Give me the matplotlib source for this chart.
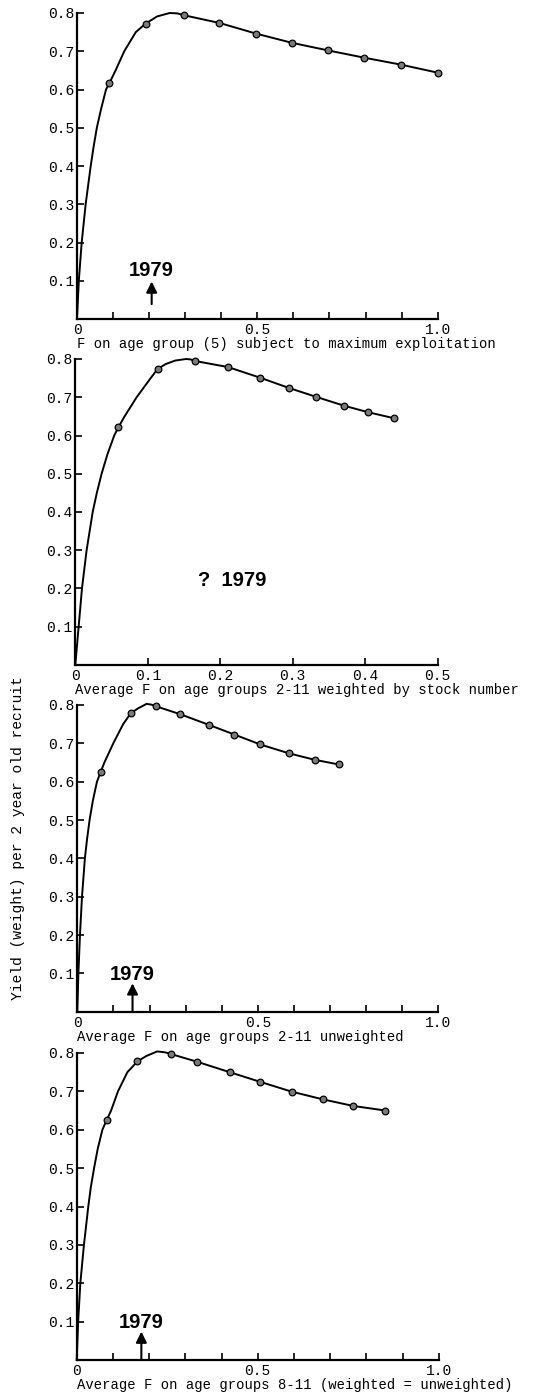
import numpy as np
import matplotlib
matplotlib.use("Agg")
import matplotlib.pyplot as plt

# --- data ---
# markers (computed points) and the traced parts of each curve between them
p1_f = [0.09, 0.19, 0.297, 0.395, 0.497, 0.596, 0.697, 0.797, 0.898, 1.0]
p1_y = [0.617, 0.772, 0.794, 0.774, 0.746, 0.722, 0.702, 0.683, 0.665, 0.644]
p1_curve_f = [0, 0.005, 0.013, 0.024, 0.038, 0.046, 0.055, 0.067, 0.0805,
              0.107, 0.131, 0.163, 0.222, 0.257, 0.278]
p1_curve_y = [0, 0.1, 0.2, 0.3, 0.4, 0.45, 0.5, 0.55, 0.6,
              0.65, 0.7, 0.75, 0.791, 0.800, 0.799]

p2_f = [0.0593, 0.1136, 0.1646, 0.2106, 0.2552, 0.2952, 0.3324, 0.3706, 0.4037, 0.44]
p2_y = [0.621, 0.774, 0.795, 0.779, 0.751, 0.724, 0.701, 0.678, 0.661, 0.645]
p2_curve_f = [0, 0.0046, 0.0092, 0.0156, 0.024, 0.0297, 0.0363, 0.0442, 0.0537,
              0.068, 0.0846, 0.104, 0.125, 0.138, 0.153, 0.159]
p2_curve_y = [0, 0.1, 0.2, 0.3, 0.4, 0.45, 0.5, 0.55, 0.6,
              0.65, 0.7, 0.75, 0.787, 0.796, 0.800, 0.799]

p3_f = [0.0646, 0.1477, 0.217, 0.285, 0.365, 0.435, 0.507, 0.586, 0.658, 0.724]
p3_y = [0.625, 0.778, 0.797, 0.776, 0.748, 0.723, 0.697, 0.674, 0.657, 0.645]
p3_curve_f = [0, 0.003, 0.0074, 0.013, 0.021, 0.027, 0.034, 0.043, 0.0545,
              0.075, 0.0997, 0.127, 0.168, 0.192, 0.205]
p3_curve_y = [0, 0.1, 0.2, 0.3, 0.4, 0.45, 0.5, 0.55, 0.6,
              0.65, 0.7, 0.75, 0.791, 0.803, 0.801]

p4_f = [0.0829, 0.1676, 0.2615, 0.3333, 0.4227, 0.5064, 0.5948, 0.681, 0.764, 0.853]
p4_y = [0.6255, 0.778, 0.797, 0.777, 0.750, 0.725, 0.699, 0.679, 0.662, 0.650]
p4_curve_f = [0, 0.004, 0.010, 0.020, 0.032, 0.039, 0.048, 0.058, 0.071,
              0.095, 0.114, 0.140, 0.192, 0.222, 0.243]
p4_curve_y = [0, 0.1, 0.2, 0.3, 0.4, 0.45, 0.5, 0.55, 0.6,
              0.65, 0.7, 0.75, 0.792, 0.804, 0.802]

xlabels = [
    "F on age group (5) subject to maximum exploitation",
    "Average F on age groups 2-11 weighted by stock number",
    "Average F on age groups 2-11 unweighted",
    "Average F on age groups 8-11 (weighted = unweighted)",
]
ylabel = "Yield (weight) per 2 year old recruit"
yticks = [0.1, 0.2, 0.3, 0.4, 0.5, 0.6, 0.7, 0.8]
ytick_labels = ["0.1", "0.2", "0.3", "0.4", "0.5", "0.6", "0.7", "0.8"]
xticks_long = [0, 0.1, 0.2, 0.3, 0.4, 0.5, 0.6, 0.7, 0.8, 0.9, 1.0]
xtick_labels_long = ["0", "", "", "", "", "0.5", "", "", "", "", "1.0"]
xticks_short = [0, 0.1, 0.2, 0.3, 0.4, 0.5]
xtick_labels_short = ["0", "0.1", "0.2", "0.3", "0.4", "0.5"]

# 1979 markers: (x, arrow base, arrow tip, text y)
arrow_1979 = {0: (0.207, 0.039, 0.098, 0.127),
              2: (0.153, 0.0, 0.074, 0.097),
              3: (0.1786, 0.0, 0.074, 0.097)}
q1979 = (0.2166, 0.222)

mono = "Liberation Mono"
sans = ["Liberation Sans", "DejaVu Sans"]

W, H = 553, 1395
fig = plt.figure(figsize=(W / 100, H / 100), dpi=100)

# panel boxes in pixels: left, top, right, bottom
boxes = [(77, 13, 437.7, 319),
         (75.3, 359, 437.7, 665),
         (77.3, 705, 438.3, 1011.7),
         (76.7, 1053, 438.7, 1360)]

panels = [(p1_f, p1_y, p1_curve_f, p1_curve_y),
          (p2_f, p2_y, p2_curve_f, p2_curve_y),
          (p3_f, p3_y, p3_curve_f, p3_curve_y),
          (p4_f, p4_y, p4_curve_f, p4_curve_y)]

for i, (box, (mf, my, cf, cy)) in enumerate(zip(boxes, panels)):
    l, t, r, b = box
    ax = fig.add_axes([l / W, 1 - b / H, (r - l) / W, (b - t) / H])

    # join traced curve and markers into one line, ordered by F
    lf = np.array(list(cf) + list(mf))
    ly = np.array(list(cy) + list(my))
    order = np.argsort(lf, kind="stable")
    ax.plot(lf[order], ly[order], color="black", lw=1.4, clip_on=False,
            solid_joinstyle="round")
    ax.plot(mf, my, "o", ms=4.8, mfc="#7a7a7a", mec="black", mew=0.9,
            clip_on=False)

    if i == 1:
        ax.set_xlim(0, 0.5)
        ax.set_xticks(xticks_short)
        ax.set_xticklabels(xtick_labels_short)
    else:
        ax.set_xlim(0, 1.0)
        ax.set_xticks(xticks_long)
        ax.set_xticklabels(xtick_labels_long)
    ax.set_ylim(0, 0.8)
    ax.set_yticks(yticks)
    ax.set_yticklabels(ytick_labels)

    for s in ["top", "right"]:
        ax.spines[s].set_visible(False)
    for s in ["left", "bottom"]:
        ax.spines[s].set_linewidth(1.6)
    ax.tick_params(direction="in", length=5, width=1.2, colors="black")
    ax.tick_params(axis="y", pad=2)
    ax.tick_params(axis="x", pad=3)
    for lab in ax.get_xticklabels() + ax.get_yticklabels():
        lab.set_fontfamily(mono)
        lab.set_fontsize(10.5)

    ax.set_xlabel(xlabels[i], loc="left", labelpad=0, fontfamily=mono,
                  fontsize=10)

    if i in arrow_1979:
        x, base, tip, ty = arrow_1979[i]
        ax.annotate("", xy=(x, tip), xytext=(x, base),
                    arrowprops=dict(arrowstyle="-|>", lw=1.5, color="black",
                                    mutation_scale=16, shrinkA=0, shrinkB=0))
        ax.text(x, ty, "1979", ha="center", va="center", fontsize=14.5,
                fontweight="bold", family=sans)
    if i == 1:
        ax.text(q1979[0], q1979[1], "?  1979", ha="center", va="center",
                fontsize=14.5, fontweight="bold", family=sans)

fig.text(18 / W, 1 - 838 / H, ylabel, rotation=90, ha="center", va="center",
         fontfamily=mono, fontsize=10.5)

fig.savefig("out.png", dpi=100)
